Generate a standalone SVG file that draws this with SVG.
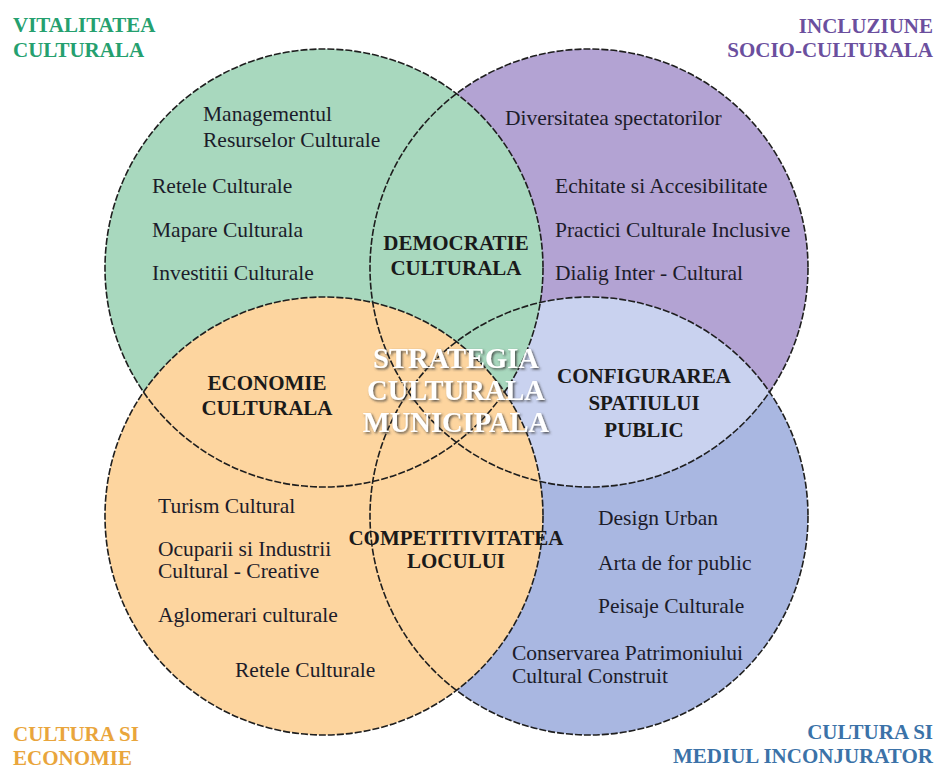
<svg xmlns="http://www.w3.org/2000/svg" width="944" height="769" viewBox="0 0 944 769" font-family="'Liberation Serif', Tinos, 'DejaVu Serif', 'Noto Serif', FreeSerif, 'Times New Roman', serif">
  <style>
    .item { font-size: 21.5px; fill: #1c1c2a; }
    .lbl { font-size: 21px; font-weight: bold; fill: #1a1a1a; text-anchor: middle; }
    .title { font-size: 21px; font-weight: bold; }
    .center { font-size: 28.5px; font-weight: bold; fill: #ffffff; text-anchor: middle; filter: url(#shadow); }
    .edge { fill: none; stroke: #1e1e1e; stroke-width: 1.6; stroke-dasharray: 7 2; }
  </style>
  <defs>
    <clipPath id="clipPurple"><circle cx="589" cy="268" r="219"/></clipPath>
    <filter id="shadow" x="-20%" y="-30%" width="140%" height="160%">
      <feDropShadow dx="1.5" dy="1.5" stdDeviation="1.2" flood-color="#3a3a3a" flood-opacity="0.85"/>
    </filter>
  </defs>
  <rect width="944" height="769" fill="#ffffff"/>

  <g id="fills">
    <circle id="fill-purple" cx="589" cy="268" r="219" fill="#b3a3d3"/>
    <circle id="fill-blue" cx="589" cy="516" r="219" fill="#a9b7e1"/>
    <circle id="fill-lens" cx="589" cy="516" r="219" fill="#c9d2ef" clip-path="url(#clipPurple)"/>
    <circle id="fill-green" cx="324" cy="268" r="219" fill="#a8d8be"/>
    <circle id="fill-orange" cx="324" cy="516" r="219" fill="#fdd59f"/>
  </g>

  <g id="outlines">
    <circle class="edge" cx="324" cy="268" r="219"/>
    <circle class="edge" cx="589" cy="268" r="219"/>
    <circle class="edge" cx="324" cy="516" r="219"/>
    <circle class="edge" cx="589" cy="516" r="219"/>
  </g>

  <g id="vitalitatea">
    <text class="title" fill="#25a06f" x="13" y="32">VITALITATEA</text>
    <text class="title" fill="#25a06f" x="13" y="57">CULTURALA</text>
    <text class="item" x="203" y="121">Managementul</text>
    <text class="item" x="203" y="147">Resurselor Culturale</text>
    <text class="item" x="152" y="193">Retele Culturale</text>
    <text class="item" x="152" y="237">Mapare Culturala</text>
    <text class="item" x="152" y="280">Investitii Culturale</text>
  </g>

  <g id="incluziune">
    <text class="title" fill="#6b4f9e" x="933" y="33" text-anchor="end">INCLUZIUNE</text>
    <text class="title" fill="#6b4f9e" x="933" y="57" text-anchor="end">SOCIO-CULTURALA</text>
    <text class="item" x="505" y="125">Diversitatea spectatorilor</text>
    <text class="item" x="555" y="193">Echitate si Accesibilitate</text>
    <text class="item" x="555" y="237">Practici Culturale Inclusive</text>
    <text class="item" x="555" y="280">Dialig Inter - Cultural</text>
  </g>

  <g id="economie">
    <text class="title" fill="#e9a53c" x="13" y="741">CULTURA SI</text>
    <text class="title" fill="#e9a53c" x="13" y="765">ECONOMIE</text>
    <text class="item" x="158" y="513">Turism Cultural</text>
    <text class="item" x="158" y="556">Ocuparii si Industrii</text>
    <text class="item" x="158" y="578">Cultural - Creative</text>
    <text class="item" x="158" y="622">Aglomerari culturale</text>
    <text class="item" x="235" y="677">Retele Culturale</text>
  </g>

  <g id="mediul">
    <text class="title" fill="#3b72a8" x="933" y="739" text-anchor="end">CULTURA SI</text>
    <text class="title" fill="#3b72a8" x="933" y="763" text-anchor="end">MEDIUL INCONJURATOR</text>
    <text class="item" x="598" y="525">Design Urban</text>
    <text class="item" x="598" y="570">Arta de for public</text>
    <text class="item" x="598" y="613">Peisaje Culturale</text>
    <text class="item" x="512" y="660">Conservarea Patrimoniului</text>
    <text class="item" x="512" y="683">Cultural Construit</text>
  </g>

  <g id="democratie">
    <text class="lbl" x="456" y="250">DEMOCRATIE</text>
    <text class="lbl" x="456" y="275">CULTURALA</text>
  </g>

  <g id="economie-culturala">
    <text class="lbl" x="267" y="390">ECONOMIE</text>
    <text class="lbl" x="267" y="415">CULTURALA</text>
  </g>

  <g id="configurarea">
    <text class="lbl" x="644" y="383">CONFIGURAREA</text>
    <text class="lbl" x="644" y="410">SPATIULUI</text>
    <text class="lbl" x="644" y="437">PUBLIC</text>
  </g>

  <g id="competitivitatea">
    <text class="lbl" x="456" y="545">COMPETITIVITATEA</text>
    <text class="lbl" x="456" y="568">LOCULUI</text>
  </g>

  <g id="strategia">
    <text class="center" x="456" y="368">STRATEGIA</text>
    <text class="center" x="456" y="400">CULTURALA</text>
    <text class="center" x="456" y="432">MUNICIPALA</text>
  </g>
</svg>
